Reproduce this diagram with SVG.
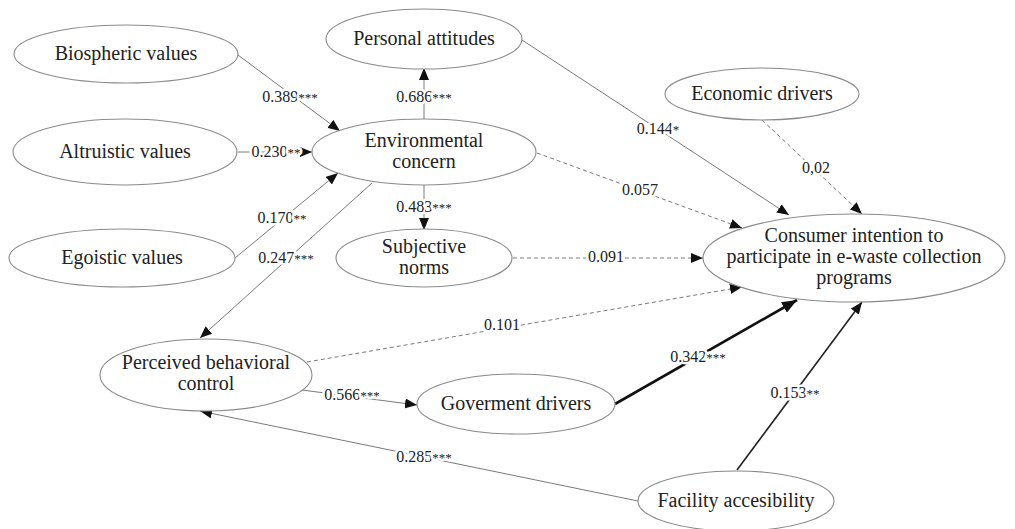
<svg xmlns="http://www.w3.org/2000/svg" width="1015" height="529" viewBox="0 0 1015 529">
<style>
.node ellipse{fill:#fff;stroke:#8a8a8a;stroke-width:1.1}
.node text{font-family:"Liberation Serif","Times New Roman",serif;font-size:20px;fill:#222;text-anchor:middle}
.c{fill:none;stroke:#7a7a7a;stroke-width:1}
.d{stroke-dasharray:4 3}
.k{stroke:#222;stroke-width:1.6}
.b{stroke:#111;stroke-width:2.6}
.lab{font-family:"Liberation Serif","Times New Roman",serif;font-size:16px;fill:#222;text-anchor:middle;stroke:#fff;stroke-width:5;paint-order:stroke;stroke-linejoin:round}
.s{font-size:13px}
</style>
<defs>
<marker id="a" markerUnits="userSpaceOnUse" markerWidth="12" markerHeight="10" refX="12" refY="5" orient="auto"><path d="M0,0 L12,5 L0,10 Z" fill="#111"/></marker>
<marker id="ab" markerUnits="userSpaceOnUse" markerWidth="15" markerHeight="12" refX="15" refY="6" orient="auto"><path d="M0,0 L15,6 L0,12 Z" fill="#111"/></marker>
</defs>
<rect width="1015" height="529" fill="#fff"/>
<g id="connectors">
<line class="c" x1="238" y1="55" x2="340" y2="131" marker-end="url(#a)"/>
<line class="c" x1="238" y1="152" x2="312" y2="152" marker-end="url(#a)"/>
<line class="c" x1="235" y1="258" x2="338" y2="173" marker-end="url(#a)"/>
<line class="c" x1="372" y1="183" x2="200" y2="338" marker-end="url(#a)"/>
<line class="c" x1="424" y1="120" x2="424" y2="68" marker-end="url(#a)"/>
<line class="c" x1="424" y1="185" x2="424" y2="230" marker-end="url(#a)"/>
<line class="c" x1="522" y1="40" x2="789" y2="215" marker-end="url(#a)"/>
<line class="c d" x1="762" y1="120" x2="862" y2="214" marker-end="url(#a)"/>
<line class="c d" x1="537" y1="153" x2="742" y2="228" marker-end="url(#a)"/>
<line class="c d" x1="513" y1="258" x2="703" y2="258" marker-end="url(#a)"/>
<line class="c d" x1="307" y1="362" x2="742" y2="287" marker-end="url(#a)"/>
<line class="c" x1="302" y1="390" x2="417" y2="405" marker-end="url(#a)"/>
<line class="c b" x1="615" y1="404" x2="797" y2="300" marker-end="url(#ab)"/>
<line class="c k" x1="737" y1="470" x2="862" y2="302" marker-end="url(#a)"/>
<line class="c" x1="638" y1="501" x2="200" y2="411" marker-end="url(#a)"/>
<text class="lab" x="290" y="102">0.389<tspan class="s">***</tspan></text>
<text class="lab" x="276" y="157">0.230<tspan class="s">**</tspan></text>
<text class="lab" x="282" y="223">0.170<tspan class="s">**</tspan></text>
<text class="lab" x="286" y="263">0.247<tspan class="s">***</tspan></text>
<text class="lab" x="424" y="102">0.686<tspan class="s">***</tspan></text>
<text class="lab" x="424" y="212">0.483<tspan class="s">***</tspan></text>
<text class="lab" x="658" y="134">0.144<tspan class="s">*</tspan></text>
<text class="lab" x="816" y="173">0,02</text>
<text class="lab" x="640" y="195">0.057</text>
<text class="lab" x="606" y="262">0.091</text>
<text class="lab" x="502" y="330">0.101</text>
<text class="lab" x="352" y="400">0.566<tspan class="s">***</tspan></text>
<text class="lab" x="698" y="362">0.342<tspan class="s">***</tspan></text>
<text class="lab" x="795" y="398">0.153<tspan class="s">**</tspan></text>
<text class="lab" x="424" y="462">0.285<tspan class="s">***</tspan></text>
</g>
<g id="biospheric" class="node"><ellipse cx="126" cy="54" rx="112" ry="29"/><text x="126" y="60">Biospheric values</text></g>
<g id="altruistic" class="node"><ellipse cx="125" cy="152" rx="112" ry="33"/><text x="125" y="158">Altruistic values</text></g>
<g id="egoistic" class="node"><ellipse cx="122" cy="258" rx="113" ry="29"/><text x="122" y="264">Egoistic values</text></g>
<g id="attitudes" class="node"><ellipse cx="424" cy="39" rx="98" ry="30"/><text x="424" y="45">Personal attitudes</text></g>
<g id="concern" class="node"><ellipse cx="424" cy="152" rx="112" ry="33"/><text x="424" y="147">Environmental</text><text x="424" y="168">concern</text></g>
<g id="norms" class="node"><ellipse cx="424" cy="258" rx="88" ry="29"/><text x="424" y="253">Subjective</text><text x="424" y="274">norms</text></g>
<g id="economic" class="node"><ellipse cx="762" cy="94" rx="97" ry="26"/><text x="762" y="100">Economic drivers</text></g>
<g id="intention" class="node"><ellipse cx="854" cy="258" rx="151" ry="44"/><text x="854" y="242">Consumer intention to</text><text x="854" y="263">participate in e-waste collection</text><text x="854" y="284">programs</text></g>
<g id="pbc" class="node"><ellipse cx="206" cy="375" rx="106" ry="36"/><text x="206" y="369">Perceived behavioral</text><text x="206" y="390">control</text></g>
<g id="government" class="node"><ellipse cx="516" cy="404" rx="99" ry="30"/><text x="516" y="410">Goverment drivers</text></g>
<g id="facility" class="node"><ellipse cx="736" cy="501" rx="98" ry="30"/><text x="736" y="507">Facility accesibility</text></g>
</svg>
